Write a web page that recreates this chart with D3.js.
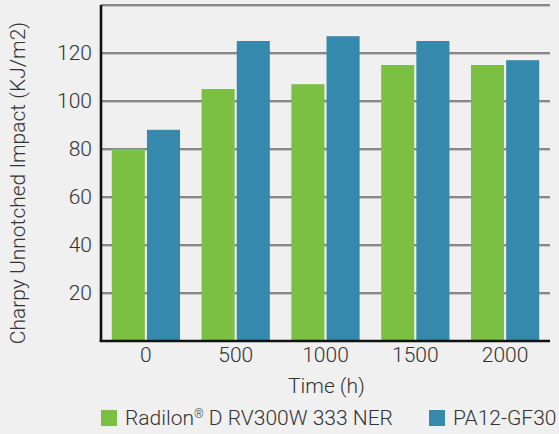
<!DOCTYPE html>
<html><head><meta charset="utf-8">
<script src="https://cdn.jsdelivr.net/npm/d3@7"></script>
<style>
html,body{margin:0;padding:0;background:#f0f0f0;}
text{font-family:Roboto,"Noto Sans",sans-serif;font-weight:300;fill:#333;}
</style></head>
<body>
<svg id="c" width="559" height="434"></svg>
<script>
const categories = ["0","500","1000","1500","2000"];
const seriesNames = ["Radilon® D RV300W 333 NER","PA12-GF30"];
const radilon = [80,105,107,115,115];
const pa12 = [88,125,127,125,117];
const yTicks = [20,40,60,80,100,120,140];
const colors = ["#7bc043","#3589ac"];

(function(){
const FS = "21px";
const svg = d3.select("#c");
const pL=101, pR=550, pT=5, pB=341;
const x0 = d3.scaleBand().domain(categories).range([pL,pR]).paddingInner(0.24).paddingOuter(0.12);
const x1 = d3.scaleBand().domain([0,1]).range([0,x0.bandwidth()]).paddingInner(0.06);
const y = d3.scaleLinear().domain([0,140]).range([pB,pT]);

// gridlines
const g = svg.append("g");
g.selectAll("line.sh").data(yTicks).join("line").attr("class","sh")
  .attr("x1",pL).attr("x2",pR).attr("y1",d=>y(d)+1.5).attr("y2",d=>y(d)+1.5)
  .attr("stroke","#c8c8c8").attr("stroke-width",1);
g.selectAll("line.gr").data(yTicks).join("line").attr("class","gr")
  .attr("x1",pL).attr("x2",pR).attr("y1",d=>y(d)).attr("y2",d=>y(d))
  .attr("stroke","#666").attr("stroke-width",1.6);

// bars
const data = categories.map((c,i)=>({c, v:[radilon[i],pa12[i]]}));
svg.append("g").selectAll("g").data(data).join("g")
  .attr("transform",d=>`translate(${x0(d.c)},0)`)
  .selectAll("rect").data(d=>d.v.map((v,k)=>({v,k}))).join("rect")
  .attr("x",d=>x1(d.k)).attr("width",x1.bandwidth())
  .attr("y",d=>y(d.v)).attr("height",d=>y(0)-y(d.v))
  .attr("fill",d=>colors[d.k]);

// y axis labels
const ya = svg.append("g").attr("transform",`translate(${pL},0)`)
  .call(d3.axisLeft(y).tickValues(yTicks.filter(d=>d<=120)).tickSize(0).tickPadding(9));
ya.select(".domain").remove();
ya.selectAll("text").style("font-size",FS).style("font-family","Roboto").style("font-weight","300").attr("fill","#333");

// x axis
const xa = svg.append("g").attr("transform",`translate(0,${pB})`)
  .call(d3.axisBottom(x0).tickSize(0).tickPadding(6));
xa.select(".domain").remove();
xa.selectAll("text").style("font-size",FS).style("font-family","Roboto").style("font-weight","300").attr("fill","#333");

// axis lines
svg.append("line").attr("x1",pL).attr("x2",pL).attr("y1",pT).attr("y2",pB+1)
  .attr("stroke","#111").attr("stroke-width",2.6);
svg.append("line").attr("x1",pL-1.3).attr("x2",pR).attr("y1",pB).attr("y2",pB)
  .attr("stroke","#111").attr("stroke-width",2.6);

// axis titles
svg.append("text").attr("x",(pL+pR)/2+1).attr("y",393).attr("text-anchor","middle")
  .style("font-size",FS).text("Time (h)");
svg.append("text").attr("transform",`translate(25,${(pT+pB)/2+10}) rotate(-90)`)
  .attr("text-anchor","middle").style("font-size",FS).text("Charpy Unnotched Impact (KJ/m2)");

// legend
const lx = [101,429];
const lg = svg.append("g").selectAll("g").data(seriesNames).join("g")
  .attr("transform",(d,i)=>`translate(${lx[i]},410)`);
lg.append("rect").attr("width",16).attr("height",16).attr("fill",(d,i)=>colors[i]);
lg.append("text").attr("x",24).attr("y",15).style("font-size",FS).each(function(d){
  const t = d3.select(this);
  const parts = d.split("®");
  t.append("tspan").text(parts[0]);
  if (parts.length>1){
    t.append("tspan").attr("dy",-7).style("font-size","12px").text("®");
    t.append("tspan").attr("dy",7).text(parts[1]);
  }
});
})();
</script>
</body></html>
